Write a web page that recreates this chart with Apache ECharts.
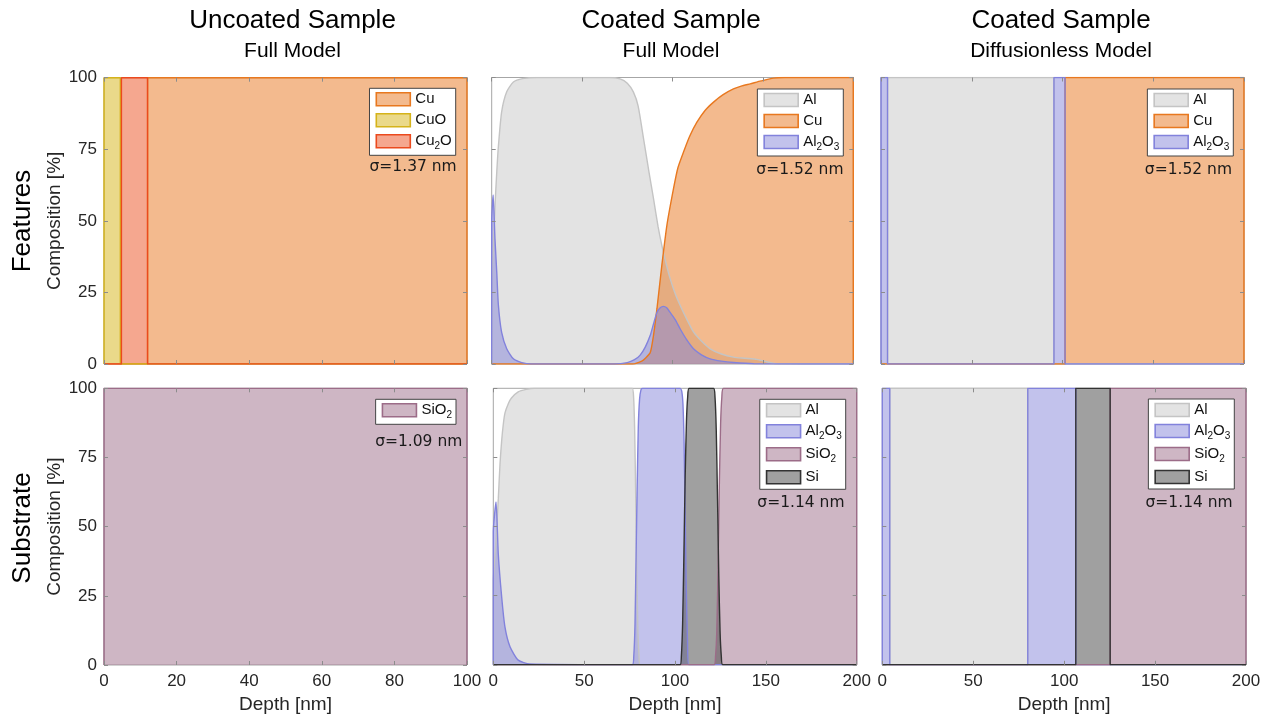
<!DOCTYPE html>
<html>
<head>
<meta charset="utf-8">
<title>Composition depth profiles</title>
<script src="https://cdn.jsdelivr.net/npm/echarts@6/dist/echarts.min.js"></script>
<style>
  html, body { margin: 0; padding: 0; background: #fff; }
  #chart { width: 1268px; height: 717px; }
</style>
</head>
<body>
<div id="chart"></div>
<script>
// depth in nm, composition in %

// uncoated sample, full model -- layers as [from, to]
const uncoatedFeatCu = [[12.0, 100]];
const uncoatedFeatCuO = [[0, 4.5]];
const uncoatedFeatCu2O = [[4.8, 12.0]];
const uncoatedSubSiO2 = [[0, 100]];

// coated sample, diffusionless model -- layers as [from, to]
const diffFeatAl = [[3.6, 95.3]];
const diffFeatCu = [[101.4, 200]];
const diffFeatAl2O3 = [[0, 3.6], [95.3, 101.4]];
const diffSubAl = [[4.1, 80.0]];
const diffSubAl2O3 = [[0, 4.1], [80.0, 106.4]];
const diffSubSiO2 = [[125.3, 200]];
const diffSubSi = [[106.4, 125.3]];

// coated sample, full model, features
const fullFeatAlDepth = [0, 0.9, 1.8, 2.8, 3.7, 5.5, 8.3, 12, 17, 25, 65, 71, 75, 78.4, 81, 84, 87, 89.5, 92, 94.1, 96.5, 98.7, 101.5, 104.2, 108, 111.6, 116, 120.8, 127, 133.7, 140, 146.7, 152, 158, 200];
const fullFeatAl = [28, 40, 55, 67, 76, 88, 95, 98.4, 99.6, 100, 100, 99.5, 98, 94.9, 90, 78.6, 67, 57.7, 48, 41.4, 35, 29.8, 24.5, 20.5, 15.5, 11.2, 8, 5.3, 3.5, 2.4, 2, 1.6, 0.8, 0, 0];
const fullFeatCuDepth = [0, 78, 83, 85, 87.7, 89.5, 91.4, 94.1, 96.9, 100.5, 103, 106.1, 109.5, 113.5, 118, 122.7, 128, 133.7, 138, 143, 149, 155.8, 162, 200];
const fullFeatCu = [0, 0, 1, 2, 4, 10, 19.3, 34.4, 48.4, 61, 68.5, 74, 79.5, 84.4, 88.5, 91.4, 94, 96, 97, 97.8, 98.8, 99.8, 100, 100];
const fullFeatAl2O3Depth = [0, 0.8, 1.8, 2.8, 3.7, 5.5, 8.3, 12, 16.6, 22, 68, 75, 79, 82, 85, 87.7, 89.5, 91.4, 93.2, 95, 96.8, 98.7, 101.5, 104.2, 108, 111.6, 116, 120.8, 127, 133.7, 145, 200];
const fullFeatAl2O3 = [50, 59, 43.7, 32, 20.5, 11, 5.3, 1.8, 0.5, 0, 0, 0.5, 1.5, 3, 6, 10, 14, 18, 19.6, 20.1, 19.6, 18, 15.5, 12.3, 8.3, 5.3, 3.2, 1.8, 1, 0.5, 0.1, 0];

// coated sample, full model, substrate
const fullSubAlDepth = [0, 1.5, 2.75, 3.7, 4.6, 5.5, 6.4, 8.3, 10, 13.7, 18, 22.5, 75.5, 76.5, 77.2, 77.8, 78.4, 79, 79.6, 80.2, 80.8, 200];
const fullSubAl = [30, 45, 60, 72.8, 81, 87, 91, 94.5, 96.5, 98.7, 99.6, 100, 100, 100, 97, 85, 60, 33, 12, 3, 0, 0];
const fullSubAl2O3Depth = [0, 1.5, 2.75, 4.6, 6.4, 9.2, 13.7, 20, 76.5, 77.3, 78, 78.6, 79.2, 79.8, 80.5, 81.3, 82.2, 102.8, 103.7, 104.4, 105, 105.6, 106.2, 106.9, 107.6, 200];
const fullSubAl2O3 = [48, 58.9, 40, 24.6, 13.7, 6.5, 1.7, 0.3, 0, 3, 15, 40, 65, 86, 96, 99.5, 100, 100, 99, 94, 80, 55, 28, 8, 0, 0];
const fullSubSiO2Depth = [0, 121.5, 122.3, 123, 123.7, 124.4, 125.1, 125.8, 126.7, 200];
const fullSubSiO2 = [0, 0, 3, 12, 35, 65, 87, 97, 100, 100];
const fullSubSiDepth = [0, 102.8, 103.5, 104.2, 104.9, 105.6, 106.3, 107, 107.8, 121.2, 122, 122.7, 123.4, 124.1, 124.8, 125.5, 126.3, 200];
const fullSubSi = [0, 0, 3, 15, 40, 68, 88, 97, 100, 100, 97, 85, 60, 32, 12, 3, 0, 0];

const columnTitles = ['Uncoated Sample', 'Coated Sample', 'Coated Sample'];
const columnSubtitles = ['Full Model', 'Full Model', 'Diffusionless Model'];
const rowLabels = ['Features', 'Substrate'];
const depthMax = [100, 200, 200];
const depthStep = [20, 50, 50];
const sigmaLabels = ['σ=1.37 nm', 'σ=1.52 nm', 'σ=1.52 nm', 'σ=1.09 nm', 'σ=1.14 nm', 'σ=1.14 nm'];

const edgeColor = { Cu: '#E8781F', CuO: '#D5B31A', Cu2O: '#EB4A1E', Al: '#C4C4C4', Al2O3: '#8282DC', SiO2: '#9C6C88', Si: '#333333' };
const fillColor = { Cu: '#E8761E', CuO: '#D5B315', Cu2O: '#EB4F1F', Al: '#C7C7C7', Al2O3: '#8585D9', SiO2: '#9D6D89', Si: '#424242' };

const FONT = '"Liberation Sans", Arial, Helvetica, sans-serif';
const INK = '#262626';

// panel boxes (px)
const panels = [
    { left: 104, top: 77.7, width: 363, height: 286.3 },
    { left: 491.7, top: 77.5, width: 361.6, height: 286.5 },
    { left: 881, top: 77.5, width: 363, height: 286.5 },
    { left: 104, top: 388.3, width: 363, height: 276.7 },
    { left: 493.3, top: 388.3, width: 363.4, height: 276.5 },
    { left: 882.3, top: 388.3, width: 363.7, height: 276.5 }
];
const legendPos = [
    { top: 88.3, right: 812.3 }, { top: 89, right: 424.7 }, { top: 89, right: 34.7 },
    { top: 399.3, right: 812 }, { top: 399.3, right: 422.3 }, { top: 399, right: 33.7 }
];
const sigmaPos = [[456.7, 166.7], [843.5, 170], [1232, 170], [462.3, 441.7], [844.5, 503.3], [1232.7, 502.7]];

function layersToPoints(layers, xmax) {
    const pts = [[0, 0]];
    layers.forEach(([a, b]) => { pts.push([a, 0], [a, 100], [b, 100], [b, 0]); });
    pts.push([xmax, 0]);
    return pts;
}

function profileToPoints(depth, vals) {
    const pts = [[depth[0], 0]];
    depth.forEach((d, i) => pts.push([d, vals[i]]));
    pts.push([depth[depth.length - 1], 0]);
    return pts;
}

// panel -> list of [name, points, smooth]
const panelSeries = [
    [['Cu', layersToPoints(uncoatedFeatCu, 100)], ['CuO', layersToPoints(uncoatedFeatCuO, 100)], ['Cu2O', layersToPoints(uncoatedFeatCu2O, 100)]],
    [['Al', profileToPoints(fullFeatAlDepth, fullFeatAl), 0.2], ['Cu', profileToPoints(fullFeatCuDepth, fullFeatCu), 0.2], ['Al2O3', profileToPoints(fullFeatAl2O3Depth, fullFeatAl2O3), 0.2]],
    [['Al', layersToPoints(diffFeatAl, 200)], ['Cu', layersToPoints(diffFeatCu, 200)], ['Al2O3', layersToPoints(diffFeatAl2O3, 200)]],
    [['SiO2', layersToPoints(uncoatedSubSiO2, 100)]],
    [['Al', profileToPoints(fullSubAlDepth, fullSubAl), 0.2], ['Al2O3', profileToPoints(fullSubAl2O3Depth, fullSubAl2O3), 0.2], ['SiO2', profileToPoints(fullSubSiO2Depth, fullSubSiO2), 0.2], ['Si', profileToPoints(fullSubSiDepth, fullSubSi), 0.2]],
    [['Al', layersToPoints(diffSubAl, 200)], ['Al2O3', layersToPoints(diffSubAl2O3, 200)], ['SiO2', layersToPoints(diffSubSiO2, 200)], ['Si', layersToPoints(diffSubSi, 200)]]
];

const grid = [], xAxis = [], yAxis = [], series = [], legend = [], elements = [];

panels.forEach((box, p) => {
    const row = p < 3 ? 0 : 1;
    const col = p % 3;
    grid.push({
        left: box.left, top: box.top, width: box.width, height: box.height,
        show: true, borderColor: '#a6a6a6', borderWidth: 1, backgroundColor: 'transparent',
        outerBoundsMode: 'none'
    });
    const tick = { show: true, inside: true, length: 4, lineStyle: { color: '#8c8c8c', width: 1 } };
    const xBase = {
        gridIndex: p, type: 'value', min: 0, max: depthMax[col], interval: depthStep[col],
        axisLine: { show: false, onZero: false }, axisTick: tick, splitLine: { show: false }, z: 5
    };
    xAxis.push(Object.assign({}, xBase, {
        position: 'bottom',
        axisLabel: { show: row === 1, margin: 8, fontSize: 17, color: INK, fontFamily: FONT },
        name: row === 1 ? 'Depth [nm]' : '', nameLocation: 'middle', nameGap: 30,
        nameTextStyle: { fontSize: 19, color: INK, fontFamily: FONT }
    }));
    xAxis.push(Object.assign({}, xBase, { position: 'top', axisLabel: { show: false } }));
    const yBase = {
        gridIndex: p, type: 'value', min: 0, max: 100, interval: 25,
        axisLine: { show: false, onZero: false }, axisTick: tick, splitLine: { show: false }, z: 5
    };
    yAxis.push(Object.assign({}, yBase, {
        position: 'left',
        axisLabel: { show: col === 0, margin: 7, fontSize: 17, color: INK, fontFamily: FONT },
        name: col === 0 ? 'Composition [%]' : '', nameLocation: 'middle', nameGap: 36,
        nameTextStyle: { fontSize: 19, color: INK, fontFamily: FONT }
    }));
    yAxis.push(Object.assign({}, yBase, { position: 'right', axisLabel: { show: false } }));

    const names = [];
    panelSeries[p].forEach(([name, pts, smooth]) => {
        names.push(name);
        series.push({
            type: 'line', name: name, xAxisIndex: 2 * p, yAxisIndex: 2 * p,
            data: pts, showSymbol: false, symbol: 'none', smooth: smooth || false,
            lineStyle: { color: edgeColor[name], width: 1.4 },
            itemStyle: { color: edgeColor[name] },
            areaStyle: { color: fillColor[name], opacity: 0.5 },
            emphasis: { disabled: true }, silent: true, z: 2
        });
    });

    legend.push({
        orient: 'vertical', top: legendPos[p].top, right: legendPos[p].right,
        icon: 'rect', itemWidth: 34, itemHeight: 13, itemGap: 5,
        padding: [3, 4, 4, 6], backgroundColor: '#fff', borderColor: '#444', borderWidth: 1,
        selectedMode: false, z: 8,
        data: names.map(n => ({
            name: n,
            itemStyle: { color: 'rgba(0,0,0,0)', borderColor: edgeColor[n], borderWidth: 1.6 },
            icon: 'rect'
        })),
        formatter: n => n.replace(/(\d)/g, '{s|$1}'),
        textStyle: {
            fontSize: 15, fontFamily: FONT, color: '#111', lineHeight: 16,
            rich: { s: { fontSize: 10, fontFamily: FONT, color: '#111', padding: [10, 0, 0, 0] } }
        }
    });

    elements.push({
        type: 'text', x: sigmaPos[p][0], y: sigmaPos[p][1], z: 10,
        style: {
            text: sigmaLabels[p], font: '15.5px "DejaVu Sans", sans-serif', fill: '#1a1a1a',
            align: 'right', verticalAlign: 'middle', textAlign: 'right', textVerticalAlign: 'middle'
        }
    });
});

// legend swatch fill: same translucent colour as the areas
legend.forEach((lg) => {
    lg.data.forEach((d) => {
        const c = fillColor[d.name];
        const r = parseInt(c.slice(1, 3), 16), g = parseInt(c.slice(3, 5), 16), b = parseInt(c.slice(5, 7), 16);
        d.itemStyle.color = 'rgba(' + r + ',' + g + ',' + b + ',0.5)';
    });
});

const titleX = [292.5, 671, 1061];
columnTitles.forEach((t, i) => {
    elements.push({
        type: 'text', x: titleX[i], y: 21,
        style: { text: t, font: '26px ' + FONT, fill: '#000', align: 'center', verticalAlign: 'middle', textAlign: 'center', textVerticalAlign: 'middle' }
    });
    elements.push({
        type: 'text', x: titleX[i], y: 51.5,
        style: { text: columnSubtitles[i], font: '21px ' + FONT, fill: '#000', align: 'center', verticalAlign: 'middle', textAlign: 'center', textVerticalAlign: 'middle' }
    });
});
const rowY = [221, 528];
rowLabels.forEach((t, i) => {
    elements.push({
        type: 'text', x: 23, y: rowY[i], rotation: Math.PI / 2,
        style: { text: t, font: '26px ' + FONT, fill: '#000', align: 'center', verticalAlign: 'middle', textAlign: 'center', textVerticalAlign: 'middle' }
    });
});

const chart = echarts.init(document.getElementById('chart'), null, { renderer: 'canvas' });
chart.setOption({
    animation: false,
    backgroundColor: '#ffffff',
    grid: grid,
    xAxis: xAxis,
    yAxis: yAxis,
    legend: legend,
    series: series,
    graphic: { elements: elements }
});
</script>
</body>
</html>
